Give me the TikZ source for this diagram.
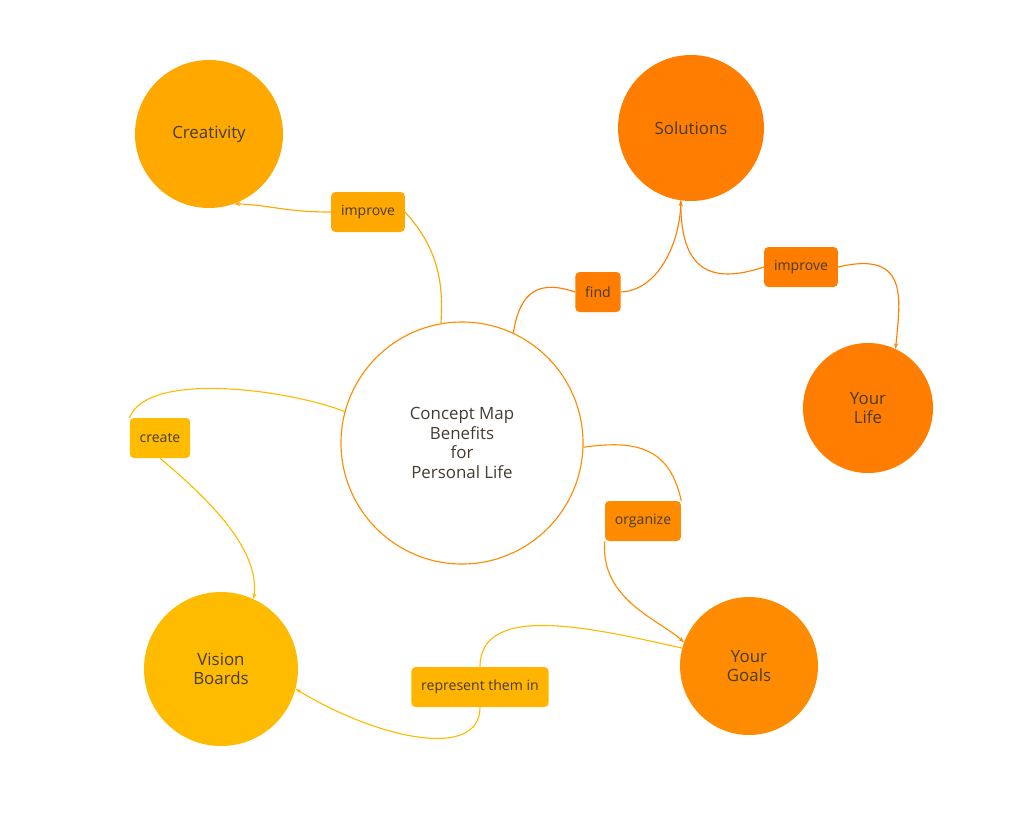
\documentclass[tikz,border=0pt]{standalone}
\usepackage{fontspec}
\setmainfont{Open Sans}
\usetikzlibrary{arrows.meta}
\definecolor{amber1}{RGB}{255,168,0}
\definecolor{amber2}{RGB}{255,187,0}
\definecolor{tang1}{RGB}{255,125,0}
\definecolor{tang2}{RGB}{255,140,0}
\definecolor{txtgray}{RGB}{70,60,50}
\tikzset{
  cmap/.style={x=0.025cm, y=-0.025cm, >={Stealth[length=4pt]}},
  topic/.style={circle, draw=none, minimum size=#1, font=\large, text=txtgray, align=center},
  link/.style={rounded corners=3pt, inner xsep=7pt, minimum height=40*0.025cm, font=\normalsize, text=txtgray},
  cedge/.style={line width=0.8pt}
}
\begin{document}
\begin{tikzpicture}[cmap]
\useasboundingbox (0,0) rectangle (1016,830);
% topics
\node (center) [topic=242*0.025cm, draw=tang2, line width=0.8pt, fill=white] at (462,443)
  {Concept Map\\Benefits\\for\\Personal Life};
\node (creat) [topic=148*0.025cm, fill=amber1] at (209,134) {Creativity};
\node (sol) [topic=146*0.025cm, fill=tang1] at (691,128) {Solutions};
\node (life) [topic=130*0.025cm, fill=tang1] at (868,408) {Your\\Life};
\node (goals) [topic=138*0.025cm, fill=tang2] at (749,666) {Your\\Goals};
\node (vision) [topic=154*0.025cm, fill=amber2] at (221,669) {Vision\\Boards};
% link labels
\node (l1) [link, fill=amber1] at (368,212) {improve};
\node (l2) [link, fill=tang1] at (598,292) {find};
\node (l3) [link, fill=tang1] at (801,267) {improve};
\node (l4) [link, fill=amber2] at (160,438) {create};
\node (l5) [link, fill=tang2] at (643,521) {organize};
\node (l6) [link, fill=amber2!90!orange] at (480,687) {represent them in};
% connectors
\draw [cedge, amber1] (center.100) .. controls (445,270) and (430,240) .. (l1.east);
\draw [cedge, amber1, ->] (l1.west) .. controls (285,212) and (270,205) .. (creat.-70);
\draw [cedge, tang1] (center.65) .. controls (520,290) and (540,280) .. (l2.west);
\draw [cedge, tang1, ->] (l2.east) .. controls (660,290) and (680,240) .. (sol.-98);
\draw [cedge, tang1] (sol.-98) .. controls (680,270) and (710,285) .. (l3.west);
\draw [cedge, tang1, ->] (l3.east) .. controls (910,250) and (900,300) .. (life.65);
\draw [cedge, amber2] (center.165) .. controls (290,390) and (148,370) .. (l4.north west);
\draw [cedge, amber2, ->] (l4.south) .. controls (210,500) and (260,550) .. (vision.65);
\draw [cedge, tang2] (center.-2) .. controls (640,439) and (670,450) .. (l5.north east);
\draw [cedge, tang2, ->] (l5.south west) .. controls (600,600) and (660,620) .. (goals.160);
\draw [cedge, amber2] (goals.165) .. controls (600,630) and (480,600) .. (l6.north);
\draw [cedge, amber2, ->] (l6.south) .. controls (480,760) and (380,740) .. (vision.-15);
\end{tikzpicture}
\end{document}
